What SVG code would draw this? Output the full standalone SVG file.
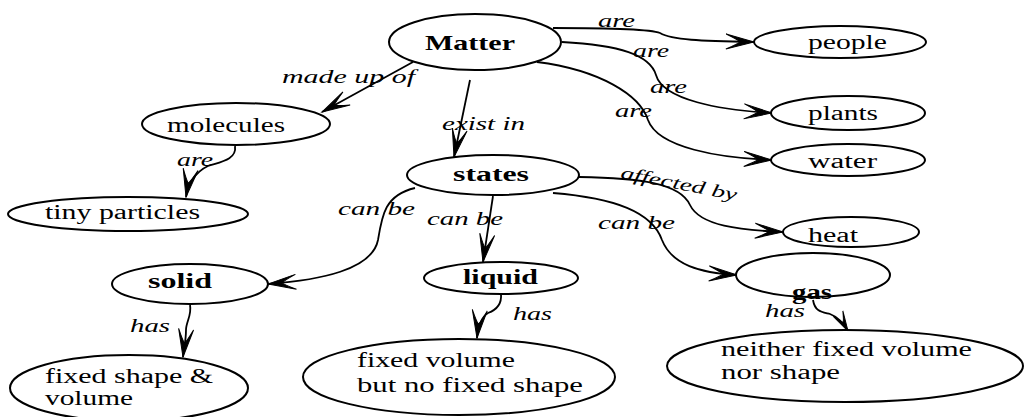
<svg xmlns="http://www.w3.org/2000/svg" width="1024" height="417" viewBox="0 0 1024 417">
<style>
  .node ellipse { fill: #ffffff; stroke: #000000; stroke-width: 2; }
  .t { font-size: 20px; fill: #000; }
  .b { font-weight: bold; }
  .lbl { font-size: 18px; font-style: italic; fill: #000; }
  .edges path { fill: none; stroke: #000; stroke-width: 1.8; marker-end: url(#vee); }
</style>
<defs>
  <marker id="vee" markerUnits="userSpaceOnUse" markerWidth="32" markerHeight="18" viewBox="-30 -9 32 18" refX="0" refY="0" orient="auto">
    <path d="M0,0 L-28,-7.5 Q-16,-2 -14,0 Q-16,2 -28,7.5 Z" fill="#000" stroke="#000" stroke-width="1"/>
  </marker>
  <marker id="vees" markerUnits="userSpaceOnUse" markerWidth="24" markerHeight="14" viewBox="-22 -7 24 14" refX="0" refY="0" orient="auto">
    <path d="M0,0 L-20,-5.5 Q-11,-1.5 -10,0 Q-11,1.5 -20,5.5 Z" fill="#000" stroke="#000" stroke-width="1"/>
  </marker>
</defs>
<rect width="1024" height="417" fill="#ffffff"/>

<g class="edges" id="connectors">
  <path d="M 553 28 C 610 28, 650 29, 660 33 C 672 40, 700 41, 754 42"/>
  <path d="M 562 42 C 620 45, 650 55, 656 75 C 663 100, 720 110, 772 113"/>
  <path d="M 537 62 C 600 70, 640 95, 648 120 C 658 148, 720 158, 772 160"/>
  <path d="M 413 62 L 322 112"/>
  <path d="M 470 80 L 454 157"/>
  <path d="M 235 146 C 237 160, 220 162, 208 166 C 195 172, 188 185, 186 197"/>
  <path d="M 415 188 C 385 195, 382 215, 378 240 C 372 270, 320 280, 268 284"/>
  <path d="M 493 196 L 483 262"/>
  <path d="M 553 193 C 615 198, 652 212, 662 240 C 672 265, 700 273, 737 275"/>
  <path d="M 579 177 C 640 178, 680 183, 690 205 C 700 226, 740 230, 783 232"/>
  <path d="M 190 305 C 192 315, 186 322, 186 330 C 186 340, 184 348, 183 357"/>
  <path d="M 501 294 C 502 305, 496 310, 488 313 C 480 318, 478 328, 477 338"/>
  <path d="M 813 300 C 815 312, 822 312, 830 314 C 838 317, 844 324, 848 331" style="marker-end:url(#vees)"/>
</g>

<g id="edge-labels" font-family="'Liberation Serif', 'Times New Roman', 'DejaVu Serif', serif">
  <text class="lbl" x="598" y="27" textLength="37" lengthAdjust="spacingAndGlyphs">are</text>
  <text class="lbl" x="633" y="57" textLength="36" lengthAdjust="spacingAndGlyphs">are</text>
  <text class="lbl" x="650" y="93" textLength="37" lengthAdjust="spacingAndGlyphs">are</text>
  <text class="lbl" x="615" y="117" textLength="37" lengthAdjust="spacingAndGlyphs">are</text>
  <text class="lbl" x="282" y="83" textLength="133" lengthAdjust="spacingAndGlyphs">made up of</text>
  <text class="lbl" x="442" y="130" textLength="83" lengthAdjust="spacingAndGlyphs">exist in</text>
  <text class="lbl" x="177" y="166" textLength="36" lengthAdjust="spacingAndGlyphs">are</text>
  <text class="lbl" x="338" y="215" textLength="77" lengthAdjust="spacingAndGlyphs">can be</text>
  <text class="lbl" x="427" y="225" textLength="76" lengthAdjust="spacingAndGlyphs">can be</text>
  <text class="lbl" x="598" y="229" textLength="77" lengthAdjust="spacingAndGlyphs">can be</text>
  <text class="lbl" x="620" y="178" textLength="118" lengthAdjust="spacingAndGlyphs" transform="rotate(11 620 178)">affected by</text>
  <text class="lbl" x="130" y="332" textLength="40" lengthAdjust="spacingAndGlyphs">has</text>
  <text class="lbl" x="513" y="320" textLength="39" lengthAdjust="spacingAndGlyphs">has</text>
  <text class="lbl" x="765" y="317" textLength="40" lengthAdjust="spacingAndGlyphs">has</text>
</g>

<g id="nodes" font-family="'Liberation Serif', 'Times New Roman', 'DejaVu Serif', serif">
<g class="node" id="matter">
  <ellipse cx="475" cy="42" rx="86" ry="28"/>
  <text class="t b" x="425" y="50" style="font-size:21px" textLength="90" lengthAdjust="spacingAndGlyphs">Matter</text>
</g>
<g class="node" id="people">
  <ellipse cx="840" cy="42" rx="86" ry="16"/>
  <text class="t" x="808" y="49" textLength="79" lengthAdjust="spacingAndGlyphs">people</text>
</g>
<g class="node" id="plants">
  <ellipse cx="848" cy="113" rx="77" ry="17"/>
  <text class="t" x="808" y="120" textLength="70" lengthAdjust="spacingAndGlyphs">plants</text>
</g>
<g class="node" id="water">
  <ellipse cx="848" cy="160" rx="77" ry="16"/>
  <text class="t" x="808" y="168" textLength="69" lengthAdjust="spacingAndGlyphs">water</text>
</g>
<g class="node" id="molecules">
  <ellipse cx="236" cy="124" rx="94" ry="21"/>
  <text class="t" x="167" y="132" textLength="118" lengthAdjust="spacingAndGlyphs">molecules</text>
</g>
<g class="node" id="tiny-particles">
  <ellipse cx="128" cy="214" rx="120" ry="17"/>
  <text class="t" x="45" y="219" textLength="155" lengthAdjust="spacingAndGlyphs">tiny particles</text>
</g>
<g class="node" id="states">
  <ellipse cx="493" cy="175" rx="86" ry="20"/>
  <text class="t b" x="453" y="181" textLength="76" lengthAdjust="spacingAndGlyphs">states</text>
</g>
<g class="node" id="heat">
  <ellipse cx="851" cy="232" rx="68" ry="15"/>
  <text class="t" x="808" y="242" textLength="50" lengthAdjust="spacingAndGlyphs">heat</text>
</g>
<g class="node" id="solid">
  <ellipse cx="190" cy="284" rx="78" ry="20"/>
  <text class="t b" x="148" y="288" textLength="64" lengthAdjust="spacingAndGlyphs">solid</text>
</g>
<g class="node" id="liquid">
  <ellipse cx="501" cy="278" rx="77" ry="16"/>
  <text class="t b" x="463" y="284" textLength="75" lengthAdjust="spacingAndGlyphs">liquid</text>
</g>
<g class="node" id="gas">
  <ellipse cx="813" cy="275" rx="77" ry="22"/>
  <text class="t b" x="792" y="299" textLength="40" lengthAdjust="spacingAndGlyphs">gas</text>
</g>
<g class="node" id="fixed-shape-volume">
  <ellipse cx="129" cy="388" rx="119" ry="33"/>
  <text class="t" x="45" y="383" textLength="168" lengthAdjust="spacingAndGlyphs">fixed shape &amp;</text>
  <text class="t" x="45" y="405" textLength="88" lengthAdjust="spacingAndGlyphs">volume</text>
</g>
<g class="node" id="fixed-volume">
  <ellipse cx="459" cy="377" rx="156" ry="38"/>
  <text class="t" x="357" y="367" textLength="158" lengthAdjust="spacingAndGlyphs">fixed volume</text>
  <text class="t" x="357" y="392" textLength="226" lengthAdjust="spacingAndGlyphs">but no fixed shape</text>
</g>
<g class="node" id="neither">
  <ellipse cx="845" cy="366" rx="178" ry="36"/>
  <text class="t" x="721" y="356" textLength="251" lengthAdjust="spacingAndGlyphs">neither fixed volume</text>
  <text class="t" x="721" y="379" textLength="119" lengthAdjust="spacingAndGlyphs">nor shape</text>
</g>
</g>
</svg>
